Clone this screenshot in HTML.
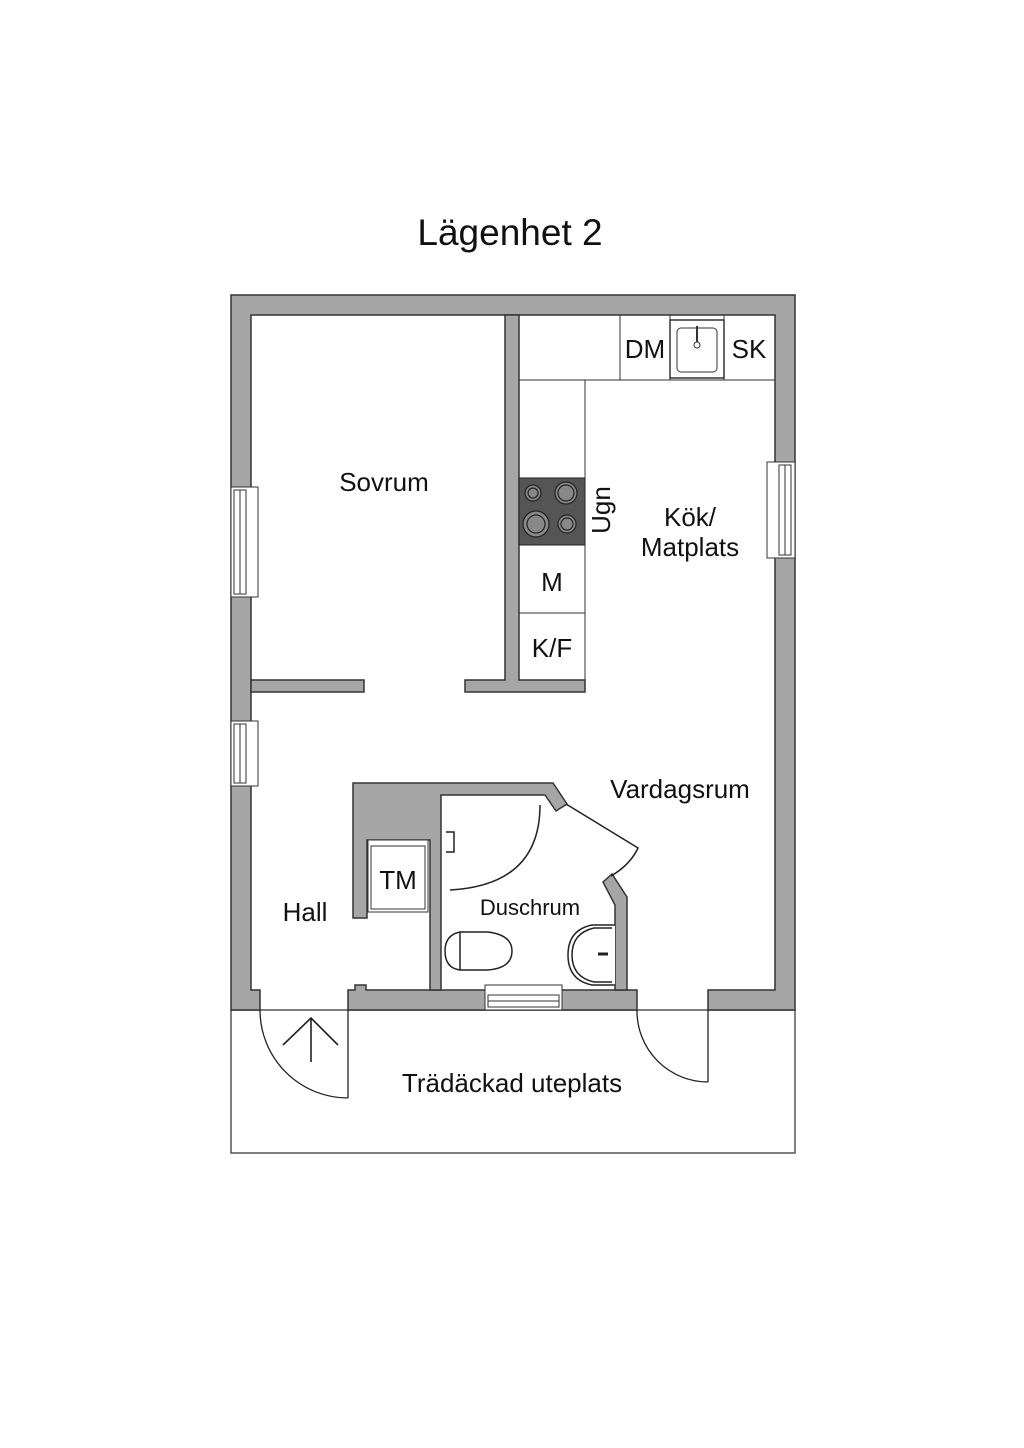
<!DOCTYPE html>
<html><head><meta charset="utf-8"><style>
html,body{margin:0;padding:0;background:#fff;}
svg{display:block;}
text{font-family:"Liberation Sans",sans-serif;fill:#111;}
</style></head><body>
<svg width="1024" height="1448" viewBox="0 0 1024 1448" xmlns="http://www.w3.org/2000/svg">
<text x="510" y="245" font-size="37" text-anchor="middle">Lägenhet 2</text>
<rect x="231" y="1010" width="564" height="143" fill="#fff" stroke="#555" stroke-width="1.5"/>
<g fill="#a6a6a6" stroke="#333" stroke-width="1.5">
<path d="M231,295 H795 V1010 H708 V990 H775 V315 H251 V990 H260 V1010 H231 Z"/>
<path d="M348,1010 V990 H355 V985 H366 V990 H441 V990 H637 V1010 Z"/>
<path d="M505,315 H519 V680 H585 V692 H465 V680 H505 Z"/>
<path d="M251,680 H364 V692 H251 Z"/>
<path d="M353,783 H553 L567,804 L556,811 L545,795 H441 V990 H430 V840 H367 V918 H353 Z"/>
<path d="M603,882 L612,874 L627,897 V990 H615 V905 Z"/>
</g>
<g fill="#fff" stroke="#333" stroke-width="1">
<rect x="231" y="487" width="27" height="110"/><rect x="234" y="490" width="12" height="104"/><line x1="240" y1="490" x2="240" y2="594"/>
<rect x="231" y="721" width="27" height="65"/><rect x="234" y="724" width="12" height="59"/><line x1="240" y1="724" x2="240" y2="783"/>
<rect x="767" y="462" width="28" height="96"/><rect x="779" y="465" width="12" height="90"/><line x1="785" y1="465" x2="785" y2="555"/>
<rect x="485" y="985" width="77" height="25"/><rect x="488" y="995" width="71" height="12"/><line x1="488" y1="1001" x2="559" y2="1001"/>
</g>
<g fill="#fff" stroke="#333" stroke-width="1">
<path d="M519,380 H585 M585,380 H775 M585,380 V680 M620,315 V380 M670,315 V380 M724,315 V380 M519,545 H585 M519,613 H585"/>
<rect x="670" y="320" width="54" height="58" stroke-width="1.5"/>
<rect x="677" y="328" width="40" height="44" rx="4"/>
<line x1="697" y1="326" x2="697" y2="343" stroke-width="2"/><circle cx="697" cy="345" r="3"/>
</g>
<rect x="519" y="478" width="66" height="67" fill="#555" stroke="#222"/>
<g fill="#888" stroke="#222" stroke-width="1.2">
<circle cx="533" cy="493" r="8"/><circle cx="533" cy="493" r="5"/>
<circle cx="566" cy="493" r="11"/><circle cx="566" cy="493" r="8"/>
<circle cx="536" cy="524" r="13"/><circle cx="536" cy="524" r="9"/>
<circle cx="567" cy="524" r="9"/><circle cx="567" cy="524" r="6"/>
</g>
<text x="645" y="358" font-size="26" text-anchor="middle">DM</text>
<text x="749" y="358" font-size="26" text-anchor="middle">SK</text>
<text x="552" y="591" font-size="26" text-anchor="middle">M</text>
<text x="552" y="657" font-size="26" text-anchor="middle">K/F</text>
<text transform="translate(610,510) rotate(-90)" font-size="26" text-anchor="middle">Ugn</text>
<text x="690" y="526" font-size="26" text-anchor="middle">Kök/</text>
<text x="690" y="556" font-size="26" text-anchor="middle">Matplats</text>
<text x="384" y="491" font-size="26" text-anchor="middle">Sovrum</text>
<text x="680" y="798" font-size="26" text-anchor="middle">Vardagsrum</text>
<text x="305" y="921" font-size="26" text-anchor="middle">Hall</text>
<text x="530" y="915" font-size="22" text-anchor="middle">Duschrum</text>
<text x="512" y="1092" font-size="26" text-anchor="middle">Trädäckad uteplats</text>
<rect x="368" y="840" width="60" height="72" fill="#fff" stroke="#333"/>
<rect x="371" y="846" width="54" height="63" fill="#fff" stroke="#333"/>
<text x="398" y="889" font-size="26" text-anchor="middle">TM</text>
<g fill="none" stroke="#222" stroke-width="1.5">
<path d="M540,805 Q540,885 450,890"/>
<path d="M566,804 L638,848 Q630,865 611,876"/>
<path d="M460,932 H488 Q512,935 512,951 Q512,968 488,970 H460 Q445,968 445,951 Q445,935 460,932 Z" fill="#fff"/>
<line x1="460" y1="932" x2="460" y2="970"/>
<path d="M615,925 H592 Q568,930 568,955 Q568,980 592,985 H615" fill="#fff"/>
<path d="M612,928 H594 Q572,933 572,955 Q572,977 594,982 H612"/>
<line x1="598" y1="954" x2="608" y2="954" stroke-width="3"/>
<path d="M446,832 h8 v20 h-8" fill="#fff"/>
</g>
<g fill="none" stroke="#222" stroke-width="1.3">
<line x1="348" y1="1010" x2="348" y2="1098"/>
<path d="M260,1010 A88,88 0 0 0 348,1098"/>
<line x1="708" y1="1010" x2="708" y2="1082"/>
<path d="M637,1010 A71,71 0 0 0 708,1082"/>
<path d="M311,1062 V1018 M283,1045 L311,1018 L338,1045" stroke-width="1.6"/>
</g>
</svg>
</body></html>
